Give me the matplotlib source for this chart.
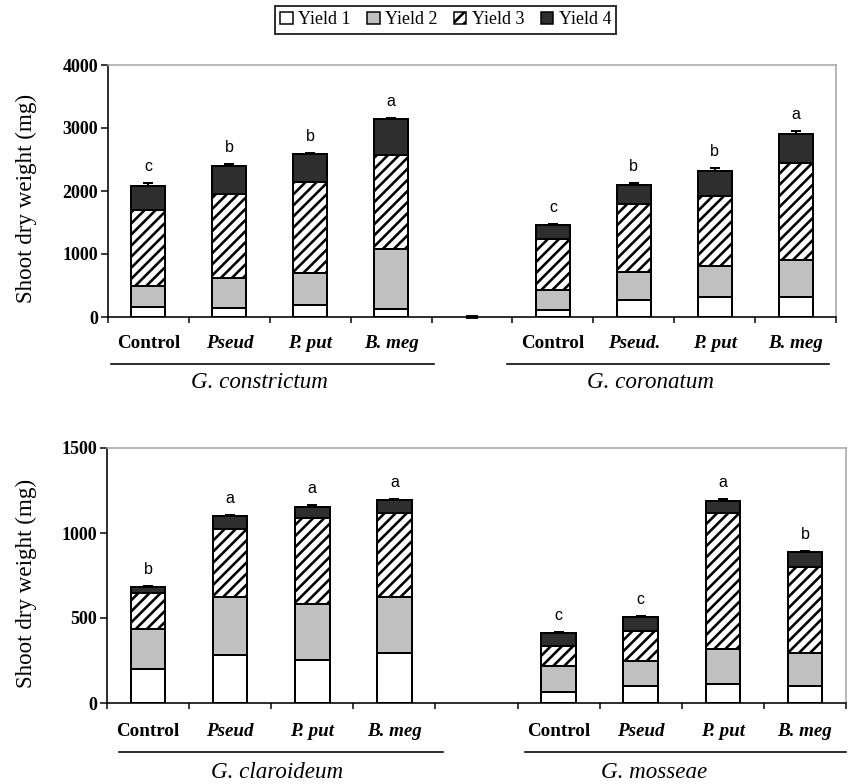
import numpy as np
import matplotlib
matplotlib.use("Agg")
import matplotlib.pyplot as plt
from matplotlib.patches import Patch

DPI = 133
PT = 72 / DPI  # one pixel in points

plt.rcParams['font.family'] = ['Liberation Serif', 'DejaVu Serif']
plt.rcParams['hatch.linewidth'] = 2.6 * PT
plt.rcParams['hatch.color'] = 'black'

# top panel
top_groups = ["G. constrictum", "G. coronatum"]
top_labels = ["Control", "Pseud", "P. put", "B. meg",
              "Control", "Pseud.", "P. put", "B. meg"]
top_y1 = [160, 150, 185, 125, 110, 265, 315, 325]
top_y2 = [340, 470, 520, 955, 320, 455, 495, 580]
top_y3 = [1200, 1330, 1430, 1490, 815, 1075, 1110, 1545]
top_y4 = [380, 450, 445, 570, 215, 305, 390, 450]
top_err = [50, 30, 25, 20, 15, 25, 50, 50]
top_letters = ["c", "b", "b", "a", "c", "b", "b", "a"]

# bottom panel
bot_groups = ["G. claroideum", "G. mosseae"]
bot_labels = ["Control", "Pseud", "P. put", "B. meg",
              "Control", "Pseud", "P. put", "B. meg"]
bot_y1 = [200, 285, 255, 295, 65, 100, 110, 100]
bot_y2 = [235, 340, 330, 330, 150, 150, 205, 195]
bot_y3 = [215, 400, 505, 495, 120, 175, 805, 505]
bot_y4 = [35, 75, 65, 75, 75, 80, 70, 90]
bot_err = [5, 5, 8, 5, 8, 5, 10, 3]
bot_letters = ["b", "a", "a", "a", "c", "c", "a", "b"]

yield_names = ["Yield 1", "Yield 2", "Yield 3", "Yield 4"]
face = ["white", "#c0c0c0", "white", "#2e2e2e"]
hatch = [None, None, "////", None]

# slot positions: four bars, an empty slot, four bars
xpos = np.array([0, 1, 2, 3, 5, 6, 7, 8])


def draw_panel(ax, y1, y2, y3, y4, err, letters, labels, groups, ymax, ystep,
               line_spans, group_x, cat_off, line_off, grp_off, gap_stub):
    segs = [np.array(y1), np.array(y2), np.array(y3), np.array(y4)]
    bottom = np.zeros(len(xpos))
    for s, fc, h in zip(segs, face, hatch):
        ax.bar(xpos, s, 0.42, bottom=bottom, color=fc, hatch=h,
               edgecolor='black', linewidth=2 * PT, zorder=3)
        bottom = bottom + s
    ax.errorbar(xpos, bottom, yerr=[np.zeros(len(xpos)), err], fmt='none',
                ecolor='black', elinewidth=2 * PT, capsize=5 * PT,
                capthick=2 * PT, zorder=4)
    if gap_stub:
        ax.errorbar([4], [0], yerr=[[0], [0]], fmt='none', ecolor='black',
                    capsize=6 * PT, capthick=3.5 * PT, zorder=4, clip_on=False)
    for x, t, e, l in zip(xpos, bottom, err, letters):
        ax.annotate(l, (x, t + e), xytext=(0, 9 * PT), textcoords='offset points',
                    ha='center', va='bottom', fontsize=16 * PT,
                    family='Liberation Sans')

    ax.set_xlim(-0.5, 8.5)
    ax.set_ylim(0, ymax)
    ax.set_yticks(np.arange(0, ymax + 1, ystep))
    ax.set_xticks(np.arange(-0.5, 9, 1))
    ax.set_xticklabels([])
    ax.tick_params(axis='y', direction='out', length=7 * PT, width=1.5 * PT,
                   labelsize=18 * PT, pad=3 * PT)
    ax.tick_params(axis='x', direction='out', length=6 * PT, width=1.5 * PT)
    for lab in ax.get_yticklabels():
        lab.set_fontweight('bold')
    for side in ['left', 'bottom']:
        ax.spines[side].set_linewidth(1.6 * PT)
    for side in ['top', 'right']:
        ax.spines[side].set_color('#a8a8a8')
        ax.spines[side].set_linewidth(1.6 * PT)

    for x, lab in zip(xpos, labels):
        style = 'normal' if lab == 'Control' else 'italic'
        ax.annotate(lab, (x, 0), xycoords=('data', 'axes fraction'),
                    xytext=(0, -cat_off * PT), textcoords='offset points',
                    ha='center', va='center', fontsize=19 * PT,
                    fontstyle=style, fontweight='bold')
    for (x0, x1), gx, g in zip(line_spans, group_x, groups):
        y = -line_off / ax.bbox.height
        ax.plot([x0, x1], [y, y], transform=ax.get_xaxis_transform(),
                color='black', lw=1.6 * PT, clip_on=False)
        ax.annotate(g, (gx, 0), xycoords=('data', 'axes fraction'),
                    xytext=(0, -grp_off * PT), textcoords='offset points',
                    ha='center', va='center', fontsize=23 * PT, fontstyle='italic')
    ax.set_ylabel("Shoot dry weight (mg)", fontsize=23 * PT)


fig = plt.figure(figsize=(849 / DPI, 784 / DPI), dpi=DPI)
ax1 = fig.add_axes([108 / 849, 1 - 317 / 784, 728 / 849, 252 / 784])
ax2 = fig.add_axes([107 / 849, 1 - 703 / 784, 739 / 849, 255 / 784])

draw_panel(ax1, top_y1, top_y2, top_y3, top_y4, top_err, top_letters,
           top_labels, top_groups, 4000, 1000,
           [(-0.46, 3.53), (4.43, 8.41)], [1.37, 6.21], 26, 47, 65, True)
draw_panel(ax2, bot_y1, bot_y2, bot_y3, bot_y4, bot_err, bot_letters,
           bot_labels, bot_groups, 1500, 500,
           [(-0.35, 3.59), (4.59, 8.5)], [1.57, 6.16], 29, 49, 69, False)

ax1.yaxis.set_label_coords(-0.097, 0.47)
ax2.yaxis.set_label_coords(-0.095, 0.47)

handles = [Patch(facecolor=fc, edgecolor='black', hatch=h, linewidth=1.5 * PT)
           for fc, h in zip(face, hatch)]
leg = fig.legend(handles, yield_names, loc='center', bbox_to_anchor=(0.525, 0.975),
                 ncol=4, fontsize=18 * PT, frameon=True, fancybox=False,
                 edgecolor='black', handlelength=0.7, handleheight=0.7,
                 handletextpad=0.3, columnspacing=0.9, borderpad=0.3)
leg.get_frame().set_linewidth(2 * PT)

fig.savefig("out.png", dpi=DPI)
